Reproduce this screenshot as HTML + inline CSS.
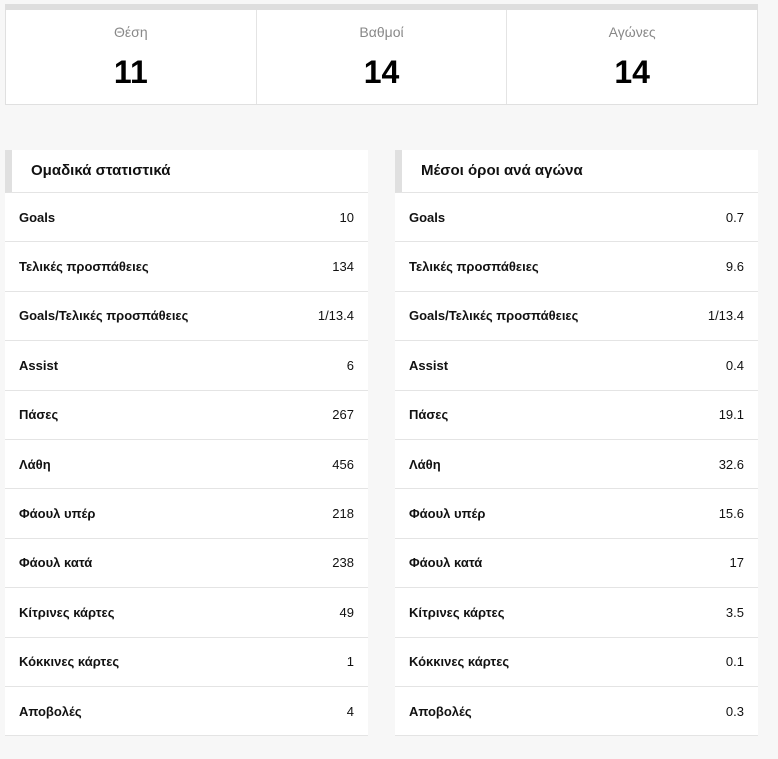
<!DOCTYPE html>
<html><head><meta charset="utf-8"><style>
*{margin:0;padding:0;box-sizing:border-box}
body{width:778px;height:759px;background:#f7f7f7;font-family:"Liberation Sans",sans-serif;position:relative;overflow:hidden}
.top{position:absolute;left:5px;top:4px;width:753px;height:6px;background:#dedede}
.box{position:absolute;left:5px;top:10px;width:753px;height:95px;background:#fff;border:1px solid #e0e0e0;border-top:none;display:flex}
.cell{flex:1;text-align:center;border-right:1px solid #e4e4e4}
.cell:last-child{border-right:none}
.lab{color:#888;font-size:14px;margin-top:14px;line-height:16px}
.val{font-size:32px;font-weight:bold;color:#000;margin-top:15px;line-height:34px}
.tbl{position:absolute;top:150px;width:363px;background:#fff}
.hd{height:43px;border-left:7px solid #e0e0e0;border-bottom:1px solid #e4e4e4;font-weight:bold;font-size:15px;line-height:42px;padding-left:19px;color:#111}
.row{height:49.4px;border-bottom:1px solid #e4e4e4;display:flex;justify-content:space-between;align-items:center;padding:0 14px 0 14px;font-size:13px;color:#111}
.row b{font-weight:bold}
</style></head><body>
<div class="top"></div>
<div class="box">
<div class="cell"><div class="lab">Θέση</div><div class="val">11</div></div>
<div class="cell"><div class="lab">Βαθμοί</div><div class="val">14</div></div>
<div class="cell"><div class="lab">Αγώνες</div><div class="val">14</div></div>
</div>
<div class="tbl" style="left:5px">
<div class="hd">Ομαδικά στατιστικά</div>
<div class="row"><b>Goals</b><span>10</span></div>
<div class="row"><b>Τελικές προσπάθειες</b><span>134</span></div>
<div class="row"><b>Goals/Τελικές προσπάθειες</b><span>1/13.4</span></div>
<div class="row"><b>Assist</b><span>6</span></div>
<div class="row"><b>Πάσες</b><span>267</span></div>
<div class="row"><b>Λάθη</b><span>456</span></div>
<div class="row"><b>Φάουλ υπέρ</b><span>218</span></div>
<div class="row"><b>Φάουλ κατά</b><span>238</span></div>
<div class="row"><b>Κίτρινες κάρτες</b><span>49</span></div>
<div class="row"><b>Κόκκινες κάρτες</b><span>1</span></div>
<div class="row"><b>Αποβολές</b><span>4</span></div>
</div>
<div class="tbl" style="left:395px">
<div class="hd">Μέσοι όροι ανά αγώνα</div>
<div class="row"><b>Goals</b><span>0.7</span></div>
<div class="row"><b>Τελικές προσπάθειες</b><span>9.6</span></div>
<div class="row"><b>Goals/Τελικές προσπάθειες</b><span>1/13.4</span></div>
<div class="row"><b>Assist</b><span>0.4</span></div>
<div class="row"><b>Πάσες</b><span>19.1</span></div>
<div class="row"><b>Λάθη</b><span>32.6</span></div>
<div class="row"><b>Φάουλ υπέρ</b><span>15.6</span></div>
<div class="row"><b>Φάουλ κατά</b><span>17</span></div>
<div class="row"><b>Κίτρινες κάρτες</b><span>3.5</span></div>
<div class="row"><b>Κόκκινες κάρτες</b><span>0.1</span></div>
<div class="row"><b>Αποβολές</b><span>0.3</span></div>
</div>
</body></html>
